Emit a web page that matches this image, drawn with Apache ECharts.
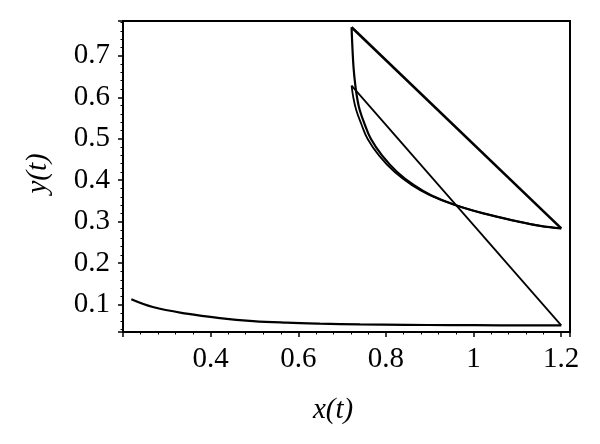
<!DOCTYPE html>
<html>
<head>
<meta charset="utf-8">
<script src="https://cdn.jsdelivr.net/npm/echarts@6/dist/echarts.min.js"></script>
<style>html,body{margin:0;padding:0;background:#fff}#c{width:600px;height:444px}</style>
</head>
<body>
<div id="c"></div>
<script>
// Transient curve (before first impulse)
var lowerX = [0.219, 0.268, 0.345, 0.421, 0.497, 0.573, 0.649, 0.741, 0.846, 0.946, 1.060, 1.175, 1.200];
var lowerY = [0.1128, 0.0942, 0.0783, 0.0676, 0.0604, 0.0565, 0.0541, 0.0522, 0.0512, 0.0506, 0.0502, 0.0500, 0.0500];
// First arc after the first impulse (outer arc)
var outerX = [0.7216, 0.7255, 0.7320, 0.7440, 0.7580, 0.7840, 0.8195, 0.8595, 0.9000, 0.9550, 1.0220, 1.0990, 1.1520, 1.2000];
var outerY = [0.628, 0.600, 0.570, 0.535, 0.500, 0.460, 0.420, 0.388, 0.364, 0.341, 0.320, 0.301, 0.290, 0.284];
// Periodic orbit arc (inner arc)
var innerX = [0.7216, 0.7235, 0.7262, 0.7300, 0.7340, 0.7400, 0.7515, 0.7655, 0.7910, 0.8255, 0.8640, 0.9030, 0.9565, 1.0225, 1.0990, 1.1520, 1.2000];
var innerY = [0.769, 0.720, 0.670, 0.630, 0.600, 0.570, 0.535, 0.500, 0.460, 0.420, 0.388, 0.364, 0.341, 0.320, 0.301, 0.290, 0.284];

function pairs(xs, ys) { return xs.map(function (x, i) { return [x, ys[i]]; }); }
function last(xs, ys) { return [xs[xs.length - 1], ys[ys.length - 1]]; }
function first(xs, ys) { return [xs[0], ys[0]]; }

var lineCol = '#000';
var serif = 'Liberation Serif';

var chart = echarts.init(document.getElementById('c'), null, { renderer: 'canvas' });
chart.setOption({
  animation: false,
  backgroundColor: '#fff',
  grid: { left: 123, right: 30, top: 21, bottom: 112, show: true, borderColor: '#000', borderWidth: 2, backgroundColor: 'transparent', containLabel: false, outerBoundsMode: 'none' },
  xAxis: {
    type: 'value', min: 0.2, max: 1.22, interval: 0.2,
    name: 'x(t)', nameLocation: 'middle', nameGap: 64,
    nameTextStyle: { fontFamily: serif, fontStyle: 'italic', fontSize: 29, color: '#000', padding: [0, 27, 0, 0] },
    axisLine: { show: true, lineStyle: { color: '#000', width: 2 } },
    axisTick: { show: true, inside: false, length: 5, lineStyle: { color: '#000', width: 1.5 } },
    minorTick: { show: true, splitNumber: 5, length: 2.5, lineStyle: { color: '#000', width: 1 } },
    splitLine: { show: false }, minorSplitLine: { show: false },
    axisLabel: { fontFamily: serif, fontSize: 29, color: '#000', margin: 13, showMinLabel: false, showMaxLabel: false, hideOverlap: false }
  },
  yAxis: {
    type: 'value', min: 0.034, max: 0.784, splitNumber: 7,
    name: 'y(t)', nameLocation: 'middle', nameGap: 70, nameRotate: 90,
    nameTextStyle: { fontFamily: serif, fontStyle: 'italic', fontSize: 29, color: '#000', padding: [0, 0, 0, 6] },
    axisLine: { show: true, lineStyle: { color: '#000', width: 2 } },
    axisTick: { show: true, inside: false, length: 5, lineStyle: { color: '#000', width: 1.5 } },
    minorTick: { show: true, splitNumber: 5, length: 2.5, lineStyle: { color: '#000', width: 1 } },
    splitLine: { show: false }, minorSplitLine: { show: false },
    axisLabel: { fontFamily: serif, fontSize: 29, color: '#000', margin: 13, showMinLabel: false, showMaxLabel: false, hideOverlap: false }
  },
  series: [
    { type: 'line', data: pairs(lowerX, lowerY), smooth: 0.4, showSymbol: false, lineStyle: { color: lineCol, width: 2.2 } },
    { type: 'line', data: [last(lowerX, lowerY), first(outerX, outerY)], showSymbol: false, lineStyle: { color: lineCol, width: 1.8 } },
    { type: 'line', data: pairs(outerX, outerY), smooth: 0.4, showSymbol: false, lineStyle: { color: lineCol, width: 1.8 } },
    { type: 'line', data: [last(outerX, outerY), first(innerX, innerY)], showSymbol: false, lineStyle: { color: lineCol, width: 2.6 } },
    { type: 'line', data: pairs(innerX, innerY), smooth: 0.4, showSymbol: false, lineStyle: { color: lineCol, width: 2.2 } }
  ]
});
</script>
</body>
</html>
